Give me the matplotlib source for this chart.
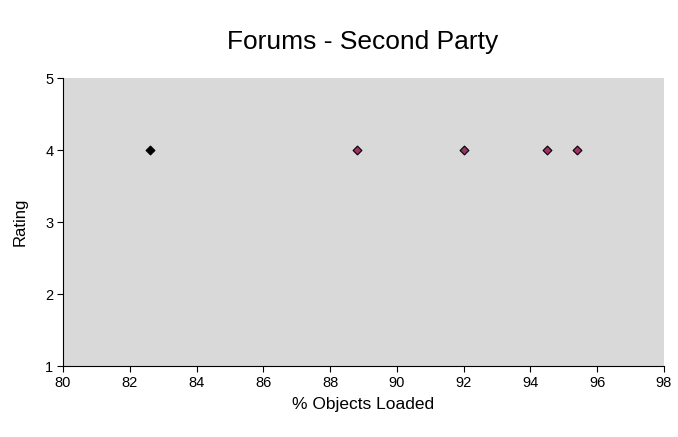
import matplotlib
matplotlib.use("Agg")
import matplotlib.pyplot as plt

plt.rcParams['font.family'] = ['Liberation Sans', 'DejaVu Sans']

series1_x = [82.6]
series1_y = [4]
series2_x = [88.8, 92.0, 94.5, 95.4]
series2_y = [4, 4, 4, 4]
x_ticks = [80, 82, 84, 86, 88, 90, 92, 94, 96, 98]
y_ticks = [1, 2, 3, 4, 5]

fig = plt.figure(figsize=(6.78, 4.37), dpi=100)
ax = fig.add_axes([0.093, 0.162, 0.886, 0.659])
ax.set_facecolor('#d9d9d9')
ax.scatter(series1_x, series1_y, marker='D', s=20, color='black', edgecolors='black', linewidths=0.8, zorder=3)
ax.scatter(series2_x, series2_y, marker='D', s=20, color='#993366', edgecolors='black', linewidths=0.8, zorder=3)
ax.set_xlim(80, 98)
ax.set_ylim(1, 5)
ax.set_xticks(x_ticks)
ax.set_yticks(y_ticks)
for s in ['top', 'right']:
    ax.spines[s].set_visible(False)
for s in ['left', 'bottom']:
    ax.spines[s].set_color('black')
    ax.spines[s].set_linewidth(0.8)
ax.tick_params(direction='out', length=4, width=0.8, labelsize=10.5, colors='black', pad=3)
ax.set_xlabel('% Objects Loaded', fontsize=12.5, labelpad=5)
ax.set_ylabel('Rating', fontsize=12, labelpad=13)
fig.text(0.535, 0.905, 'Forums - Second Party', fontsize=19, ha='center', va='center')
fig.savefig('out.png', dpi=100)
